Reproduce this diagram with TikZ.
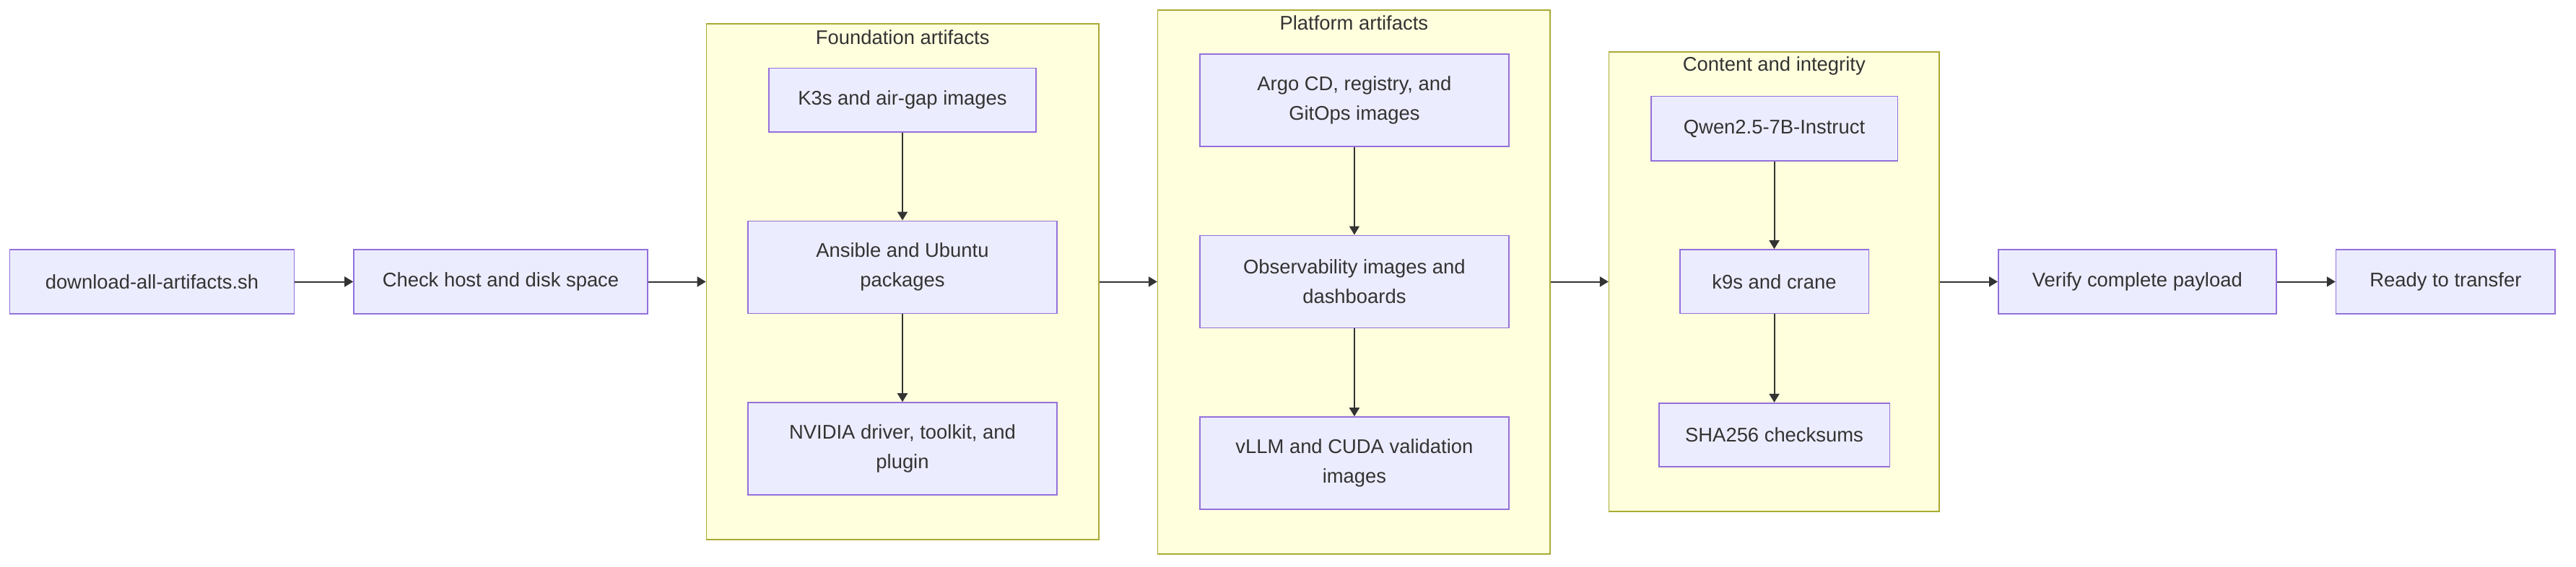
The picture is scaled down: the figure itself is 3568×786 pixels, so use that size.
\documentclass[tikz,border=0pt]{standalone}
\usepackage{fontspec}
\setmainfont{Liberation Sans}
\usetikzlibrary{arrows.meta}
\definecolor{nodefill}{HTML}{ECECFF}
\definecolor{nodeline}{HTML}{9370DB}
\definecolor{clfill}{HTML}{FFFFDE}
\definecolor{clline}{HTML}{AAAA33}
\definecolor{txt}{HTML}{333333}
\tikzset{
  box/.style={draw=nodeline, fill=nodefill, line width=0.8pt, inner sep=0pt,
    align=center, text=txt, font=\fontsize{13.7}{20.5}\selectfont},
  cluster/.style={draw=clline, fill=clfill, line width=0.8pt, inner sep=0pt},
  cltitle/.style={text=txt, inner sep=0pt, font=\fontsize{13.7}{20.5}\selectfont},
  conn/.style={draw=txt, line width=1pt, -{Triangle[width=7pt,length=6pt]}}
}
\begin{document}
\begin{tikzpicture}[x=0.5pt,y=-0.5pt]
\useasboundingbox (0,0) rectangle (3568,786);
% clusters
\node[cluster, minimum width=271.75pt, minimum height=357.5pt] (c1) at (1250.25,390.5) {};
\node[cltitle] (c1t) at (1250.25,52) {Foundation artifacts};
\node[cluster, minimum width=271.7pt, minimum height=377pt] (c2) at (1875.3,391) {};
\node[cltitle] (c2t) at (1875.3,31.6) {Platform artifacts};
\node[cluster, minimum width=228.65pt, minimum height=318.6pt] (c3) at (2457.3,390.4) {};
\node[cltitle] (c3t) at (2457.3,91.6) {Content and integrity};
% main nodes
\node[box, minimum width=197pt, minimum height=44.5pt] (dl) at (210.5,390.5) {download-all-artifacts.sh};
\node[box, minimum width=203.5pt, minimum height=44.5pt] (chk) at (693.5,390.5) {Check host and disk space};
\node[box, minimum width=192.5pt, minimum height=44.5pt] (ver) at (2960.3,390.5) {Verify complete payload};
\node[box, minimum width=151.75pt, minimum height=44.5pt] (rdy) at (3387.3,390.5) {Ready to transfer};
% cluster 1
\node[box, minimum width=185pt, minimum height=44.25pt] (k3s) at (1250,138.7) {K3s and air-gap images};
\node[box, minimum width=214pt, minimum height=64pt] (ans) at (1250,370.3) {Ansible and Ubuntu\\packages};
\node[box, minimum width=214pt, minimum height=64pt] (nv) at (1250,622) {NVIDIA driver, toolkit, and\\plugin};
% cluster 2
\node[box, minimum width=214pt, minimum height=64pt] (argo) at (1875.9,139) {Argo CD, registry, and\\GitOps images};
\node[box, minimum width=214pt, minimum height=64pt] (obs) at (1875.9,390.3) {Observability images and\\dashboards};
\node[box, minimum width=214pt, minimum height=64pt] (vllm) at (1875.9,642) {vLLM and CUDA validation\\images};
% cluster 3
\node[box, minimum width=170.8pt, minimum height=44.6pt] (qwen) at (2457.5,178.3) {Qwen2.5-7B-Instruct};
\node[box, minimum width=130.8pt, minimum height=44.3pt] (k9s) at (2457.5,390.3) {k9s and crane};
\node[box, minimum width=159.8pt, minimum height=44.2pt] (sha) at (2457.5,602.9) {SHA256 checksums};
% connectors
\draw[conn] (dl.east) -- (chk.west);
\draw[conn] (chk.east) -- (chk.east -| c1.west);
\draw[conn] (c1.east |- chk.east) -- (c1.east |- chk.east -| c2.west);
\draw[conn] (c2.east |- chk.east) -- (c2.east |- chk.east -| c3.west);
\draw[conn] (c3.east |- ver.west) -- (ver.west);
\draw[conn] (ver.east) -- (rdy.west);
\draw[conn] (k3s.south) -- (ans.north);
\draw[conn] (ans.south) -- (nv.north);
\draw[conn] (argo.south) -- (obs.north);
\draw[conn] (obs.south) -- (vllm.north);
\draw[conn] (qwen.south) -- (k9s.north);
\draw[conn] (k9s.south) -- (sha.north);
\end{tikzpicture}
\end{document}
